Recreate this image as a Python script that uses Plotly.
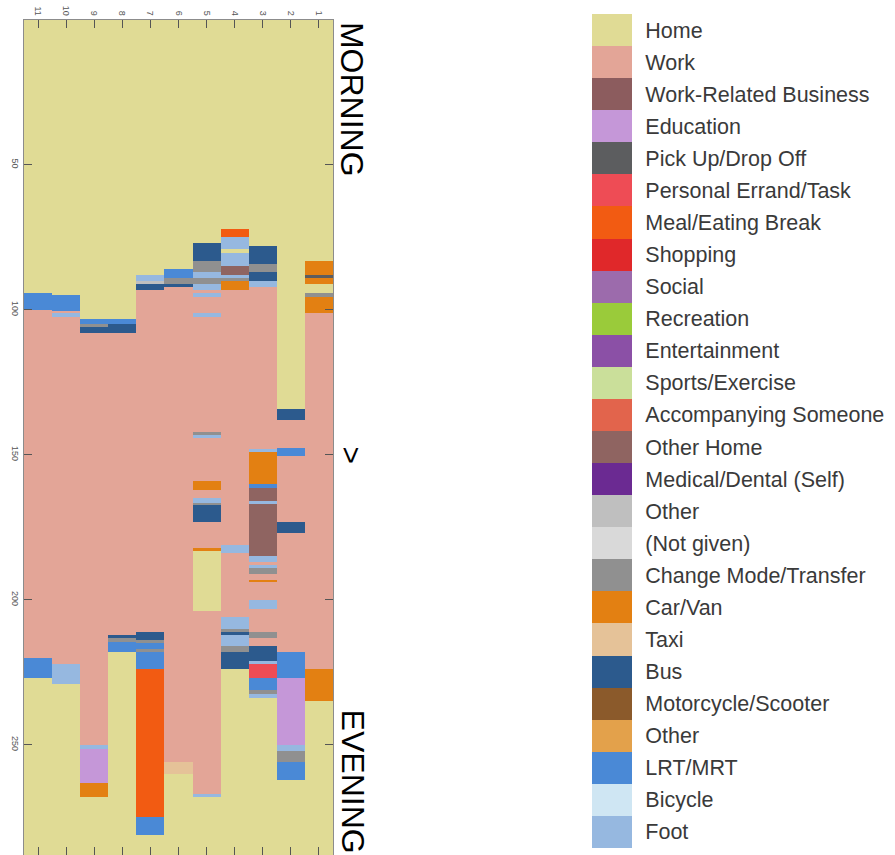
import plotly.graph_objects as go

# ---- categories (legend order, top to bottom) ----
CATEGORY_KEYS = ["home", "work", "business", "education", "pickup", "errand", "meal",
                 "shopping", "social", "recreation", "entertainment", "sports",
                 "accompany", "otherhome", "medical", "other", "notgiven", "transfer",
                 "car", "taxi", "bus", "motorcycle", "othermode", "lrt", "bicycle", "foot"]
CATEGORY_LABELS = ["Home", "Work", "Work-Related Business", "Education", "Pick Up/Drop Off",
                   "Personal Errand/Task", "Meal/Eating Break", "Shopping", "Social",
                   "Recreation", "Entertainment", "Sports/Exercise", "Accompanying Someone",
                   "Other Home", "Medical/Dental (Self)", "Other", "(Not given)",
                   "Change Mode/Transfer", "Car/Van", "Taxi", "Bus", "Motorcycle/Scooter",
                   "Other", "LRT/MRT", "Bicycle", "Foot"]
CATEGORY_COLORS = ["#E0DB95", "#E3A597", "#8C5C5E", "#C597D8", "#5C5D5F", "#EE4C55",
                   "#F25B12", "#E0282A", "#9C6BAC", "#9ACB3A", "#8B50A6", "#CADF9A",
                   "#E2644C", "#8F6461", "#6B2A92", "#BFBFBF", "#D9D9D9", "#909090",
                   "#E38012", "#E5C298", "#2C5A8D", "#8B5A2B", "#E3A14B", "#4A89D6",
                   "#CFE6F3", "#96B8E0"]

# ---- per-person activity sequences (code, end time in 5-min slots) ----
p1_codes = ["home", "car", "pickup", "car", "home", "transfer", "car", "work", "car", "home"]
p1_ends = [83, 88, 89, 91, 94, 95.5, 101, 224, 235, 288]

p2_codes = ["home", "bus", "work", "lrt", "work", "bus", "work", "lrt", "education", "foot",
            "transfer", "lrt", "home"]
p2_ends = [134, 138, 147.6, 150.3, 173, 177, 218, 227, 250, 252, 256, 262, 288]

p3_codes = ["home", "bus", "transfer", "bus", "foot", "work", "foot", "car", "lrt", "otherhome",
            "foot", "otherhome", "foot", "work", "foot", "transfer", "work", "car", "work",
            "foot", "work", "transfer", "work", "bus", "foot", "errand", "lrt", "transfer",
            "foot", "home"]
p3_ends = [78, 84, 87, 90, 92, 148, 149, 160, 161.4, 166, 167, 185, 187, 188, 189, 191, 193,
           194, 200, 203, 211, 213, 216, 221, 222, 227, 231, 232.4, 234, 288]

p4_codes = ["home", "meal", "foot", "home", "foot", "otherhome", "foot", "transfer", "car",
            "work", "foot", "work", "foot", "transfer", "bus", "foot", "transfer", "bus", "home"]
p4_ends = [72, 75, 79, 80.3, 85, 88, 89, 90, 93, 181, 184, 206, 210, 211, 212, 216, 218, 224, 288]

p5_codes = ["home", "bus", "transfer", "foot", "transfer", "foot", "work", "foot", "work",
            "foot", "work", "transfer", "foot", "work", "car", "work", "foot", "transfer",
            "bus", "work", "car", "home", "work", "foot", "home"]
p5_ends = [77, 83, 87, 89, 91, 93, 94, 95.5, 101, 102.4, 142, 143, 144, 159, 162, 165, 166.5,
           167.2, 173, 182, 183, 204, 267, 268, 288]

p6_codes = ["home", "lrt", "transfer", "bus", "work", "taxi", "home"]
p6_ends = [86, 89, 91, 92, 256, 260, 288]

p7_codes = ["home", "foot", "other", "bus", "work", "bus", "transfer", "lrt", "transfer", "lrt",
            "meal", "lrt", "home"]
p7_ends = [88, 90, 91, 93, 211, 214, 215, 217, 218, 224, 275, 281, 288]

p8_codes = ["home", "lrt", "bus", "work", "bus", "transfer", "lrt", "home"]
p8_ends = [103, 105, 108, 212, 213, 214.5, 218, 288]

p9_codes = ["home", "lrt", "transfer", "bus", "work", "foot", "education", "car", "home"]
p9_ends = [103, 105, 106, 108, 250, 251.5, 263, 268, 288]

p10_codes = ["home", "lrt", "work", "foot", "work", "foot", "home"]
p10_ends = [95, 100.5, 101, 102.4, 222, 229, 288]

p11_codes = ["home", "lrt", "work", "lrt", "home"]
p11_ends = [94, 100, 220, 227, 288]

PERSONS = [1, 2, 3, 4, 5, 6, 7, 8, 9, 10, 11]
SEQUENCES = [(p1_codes, p1_ends), (p2_codes, p2_ends), (p3_codes, p3_ends),
             (p4_codes, p4_ends), (p5_codes, p5_ends), (p6_codes, p6_ends),
             (p7_codes, p7_ends), (p8_codes, p8_ends), (p9_codes, p9_ends),
             (p10_codes, p10_ends), (p11_codes, p11_ends)]
Y_TICKS = [50, 100, 150, 200, 250]

# ---- build heatmap grid ----
N = len(CATEGORY_KEYS)
value_of = {k: i for i, k in enumerate(CATEGORY_KEYS)}

edges = sorted({0.0} | {float(e) for _, ends in SEQUENCES for e in ends})
z = []
for a, b in zip(edges[:-1], edges[1:]):
    mid = (a + b) / 2
    row = []
    for codes, ends in SEQUENCES:
        code = codes[-1]
        for c, e in zip(codes, ends):
            if mid < e:
                code = c
                break
        row.append(value_of[code])
    z.append(row)

colorscale = []
for v in range(N):
    colorscale.append([v / N, CATEGORY_COLORS[v]])
    colorscale.append([(v + 1) / N, CATEGORY_COLORS[v]])

x_edges = [p - 0.5 for p in PERSONS] + [PERSONS[-1] + 0.5]
legend_idx = list(range(N))

fig = go.Figure()
fig.add_trace(go.Heatmap(
    z=z, x=x_edges, y=edges, zmin=-0.5, zmax=N - 0.5,
    colorscale=colorscale, zsmooth=False, hoverinfo="skip", showscale=False,
    xaxis="x", yaxis="y",
))
# legend swatches drawn as a one-column heatmap with category labels as ticks
fig.add_trace(go.Heatmap(
    z=[[v] for v in legend_idx], x=[0], y=legend_idx, zmin=-0.5, zmax=N - 0.5,
    colorscale=colorscale, zsmooth=False, hoverinfo="skip", showscale=False,
    xaxis="x2", yaxis="y2",
))

W, H = 895, 855
axis_common = dict(showgrid=False, zeroline=False, showline=True, linecolor="#8c8c8c",
                   linewidth=1, mirror="ticks", ticks="inside", ticklen=8,
                   tickcolor="#555555", tickangle=90,
                   tickfont=dict(family="Liberation Sans", size=9, color="#555555"))

fig.update_layout(
    width=W, height=H,
    margin=dict(l=0, r=0, t=0, b=0, autoexpand=False),
    paper_bgcolor="white", plot_bgcolor="white",
    xaxis=dict(domain=[24 / W, 333 / W], side="top", range=[11.5, 0.5], tickmode="array",
               tickvals=PERSONS, ticktext=[str(p) for p in PERSONS], **axis_common),
    yaxis=dict(domain=[0, 1 - 20 / H], range=[288, 0], tickmode="array", tickvals=Y_TICKS,
               ticktext=[str(t) for t in Y_TICKS], **axis_common),
    xaxis2=dict(domain=[592 / W, 632 / W], range=[-0.5, 0.5], anchor="y2",
                showticklabels=False, ticks="", showgrid=False, zeroline=False,
                showline=False),
    yaxis2=dict(domain=[1 - 848 / H, 1 - 14 / H], range=[N - 0.5, -0.5], anchor="x2",
                side="right", tickmode="array", tickvals=legend_idx,
                ticktext=CATEGORY_LABELS, ticks="outside", ticklen=8,
                tickcolor="rgba(0,0,0,0)", showgrid=False, zeroline=False, showline=False,
                tickfont=dict(family="Liberation Sans", size=21.5, color="#3a3a3a")),
    annotations=[
        dict(text="MORNING", xref="x domain", x=0.9985, xanchor="left", yref="y", y=0,
             yanchor="top", textangle=90, showarrow=False,
             font=dict(family="Liberation Sans", size=32, color="black")),
        dict(text=">", xref="x domain", x=1.0, xanchor="left", yref="y", y=150,
             yanchor="middle", textangle=90, showarrow=False,
             font=dict(family="Liberation Sans", size=30, color="black")),
        dict(text="EVENING", xref="x domain", x=0.9985, xanchor="left", yref="y", y=237,
             yanchor="top", textangle=90, showarrow=False,
             font=dict(family="Liberation Sans", size=32, color="black")),
    ],
)

fig.write_html("out.html", config={"displayModeBar": False},
               post_script="document.body.style.margin='0';")
